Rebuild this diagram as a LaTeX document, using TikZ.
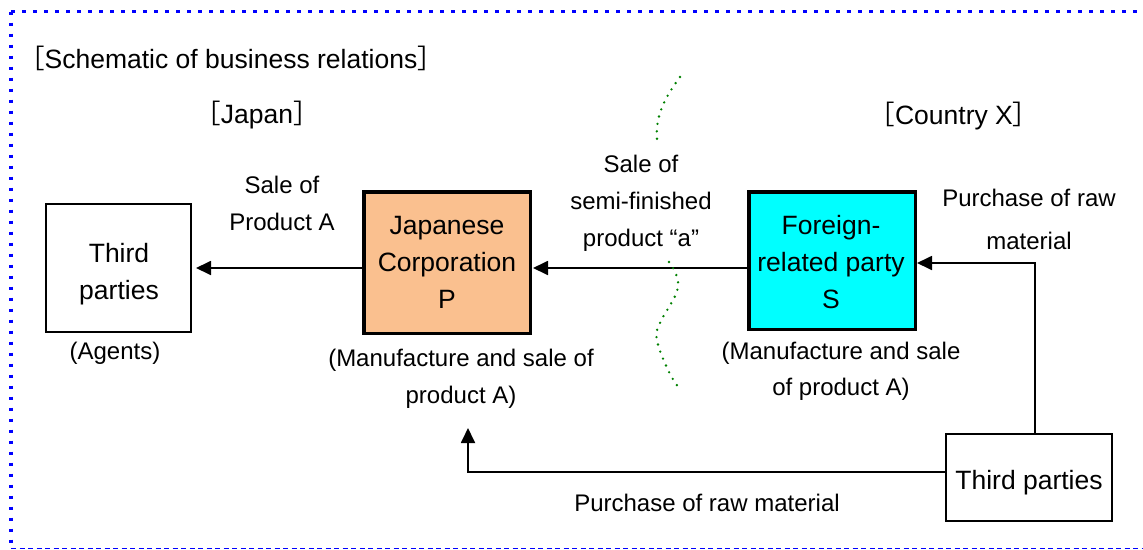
\documentclass[tikz,border=0pt]{standalone}
\usepackage{fontspec}
\setmainfont{Liberation Sans}
\newfontfamily\cjk{Noto Sans CJK JP}
\usetikzlibrary{arrows.meta}
\definecolor{peach}{RGB}{250,192,143}
\definecolor{cyanfill}{RGB}{0,255,255}
\definecolor{frameblue}{RGB}{0,0,255}
\definecolor{wavegreen}{RGB}{0,128,0}
\newcommand\fl{\rule{0pt}{19.5pt}}
\begin{document}
\begin{tikzpicture}[x=1pt,y=-1pt,
  every node/.style={font=\fontsize{26.5}{37}\selectfont},
  txt/.style={inner sep=0pt, align=center, anchor=north},
  lbl/.style={txt, font=\fontsize{24}{37}\selectfont},
  thinbox/.style={draw, line width=1.6pt, inner sep=0pt},
  thickbox/.style={draw, line width=3.5pt, inner sep=0pt},
  arr/.style={line width=1.8pt, -{Triangle[length=15pt,width=14pt]}},
  wave/.style={draw=wavegreen, line width=2.6pt, dash pattern=on 0pt off 7.5pt, line cap=round},
]
\useasboundingbox (0,0) rectangle (1143,549);
% frame
\draw[frameblue, line width=3.8pt, dash pattern=on 3.8pt off 7.2pt] (11,11.5) -- (1143,11.5);
\draw[frameblue, line width=3.8pt, dash pattern=on 3.8pt off 7.2pt] (11,11.5) -- (11,548);
\draw[frameblue, line width=1pt, dash pattern=on 5pt off 3.5pt] (11,548) -- (1143,548);

% boxes
\node[thinbox, minimum width=145.4pt, minimum height=128.4pt] (TPl) at (118.5,268) {};
\node[thickbox, fill=peach, minimum width=166.5pt, minimum height=141.5pt] (P) at (447,262.5) {};
\node[thickbox, fill=cyanfill, minimum width=166.5pt, minimum height=137.5pt] (S) at (832,260.5) {};
\node[thinbox, minimum width=166.4pt, minimum height=87.4pt] (TPb) at (1029,477.5) {};

% texts
\node[txt] (title) at (231,45.5) {\fl{\cjk ［}Schematic of business relations{\cjk ］}};
\node[txt] (japan) at (257,100.5) {\fl{\cjk ［}Japan{\cjk ］}};
\node[txt] (country) at (954,101.5) {\fl{\cjk ［}Country X{\cjk ］}};
\node[lbl] (saleA) at (282,173.5) {\fl Sale of\\Product A};
\node[lbl] (saleSemi) at (641,152.5) {\fl Sale of\\semi-finished\\product “a”};
\node[txt] (TPltext) at (119,242.5) {\fl Third\\parties};
\node[lbl] (agents) at (115,340) {\fl (Agents)};
\node[txt] (Ptext) at (447,214.5) {\fl Japanese\\Corporation\\P};
\node[lbl] (Pcap) at (461,347.2) {\fl (Manufacture and sale of\\product A)};
\node[txt] (Stext) at (831,214.5) {\fl Foreign-\\related party\\S};
\node[lbl, font=\fontsize{24}{36}\selectfont] (Scap) at (841,339.8) {\fl (Manufacture and sale\\of product A)};
\node[lbl, font=\fontsize{24}{43}\selectfont] (purch1) at (1029,187.2) {\fl Purchase of raw\\material};
\node[txt] (TPbtext) at (1029,469.8) {\fl Third parties};
\node[lbl] (purch2) at (707,492.2) {\fl Purchase of raw material};

% connectors
\draw[arr, shorten >=4pt] (P.west |- TPl.east) -- (TPl.east);
\draw[arr, shorten >=1pt] (S.west |- TPl.east) -- (P.east |- TPl.east);
\coordinate (k1) at (1035,263);
\draw[arr] (TPb.north -| k1) -- (k1) -- (S.east |- k1);
\coordinate (k2) at (468,472);
\coordinate (ptip) at (468,428);
\draw[arr] (TPb.west |- k2) -- (k2) -- (ptip);

% border lines (dotted green)
\draw[wave] (680,77) .. controls (666,96) and (655,115) .. (657,139);
\draw[wave] plot[smooth, tension=0.7] coordinates {(669,262) (678,287) (660,323) (657,340) (668,370) (679,388)};
\end{tikzpicture}
\end{document}
